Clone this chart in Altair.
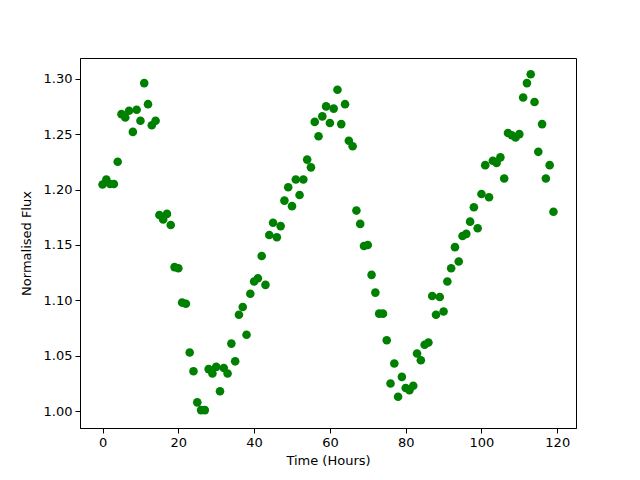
import altair as alt
import pandas as pd

hours = list(range(120))
flux = [
    1.2045, 1.209, 1.205, 1.205, 1.225, 1.268, 1.265, 1.271, 1.252, 1.272,
    1.262, 1.296, 1.277, 1.258, 1.262, 1.177, 1.173, 1.178, 1.168, 1.130,
    1.129, 1.098, 1.097, 1.053, 1.036, 1.008, 1.001, 1.001, 1.038, 1.034,
    1.040, 1.018, 1.039, 1.034, 1.061, 1.045, 1.087, 1.094, 1.069, 1.106,
    1.117, 1.120, 1.140, 1.114, 1.159, 1.170, 1.157, 1.167, 1.190, 1.202,
    1.185, 1.209, 1.195, 1.209, 1.227, 1.220, 1.261, 1.248, 1.266, 1.275,
    1.260, 1.273, 1.290, 1.259, 1.277, 1.244, 1.239, 1.181, 1.169, 1.149,
    1.150, 1.123, 1.107, 1.088, 1.088, 1.064, 1.025, 1.043, 1.013, 1.031,
    1.021, 1.019, 1.023, 1.052, 1.046, 1.060, 1.062, 1.104, 1.087, 1.103,
    1.090, 1.117, 1.129, 1.148, 1.135, 1.158, 1.160, 1.171, 1.184, 1.165,
    1.196, 1.222, 1.193, 1.226, 1.224, 1.229, 1.210, 1.251, 1.249, 1.247,
    1.250, 1.283, 1.296, 1.304, 1.279, 1.234, 1.259, 1.210, 1.222, 1.180,
]
x_ticks = [0, 20, 40, 60, 80, 100, 120]
y_ticks = [1.00, 1.05, 1.10, 1.15, 1.20, 1.25, 1.30]

df = pd.DataFrame({"Time": hours, "Flux": flux})

chart = alt.Chart(df).mark_circle(color="#008000", opacity=1, size=74).encode(
    x=alt.X("Time:Q", scale=alt.Scale(domain=[-5.95, 124.95], nice=False, zero=False),
            axis=alt.Axis(title="Time (Hours)", values=x_ticks, format="d", grid=False)),
    y=alt.Y("Flux:Q", scale=alt.Scale(domain=[0.98485, 1.31865], nice=False, zero=False),
            axis=alt.Axis(title="Normalised Flux", values=y_ticks, format=".2f", grid=False)),
).properties(
    width=496, height=370,
    padding={"left": 72, "top": 50, "right": 56, "bottom": 44},
    autosize=alt.AutoSizeParams(type="none"),
).configure_view(
    stroke="black", strokeWidth=1
).configure_axis(
    domainColor="black", domainWidth=1, tickColor="black", tickSize=5, tickWidth=1,
    labelFont="DejaVu Sans", labelFontSize=13, labelColor="black", labelPadding=3,
    titleFont="DejaVu Sans", titleFontSize=13, titleFontWeight="normal", titleColor="black",
).configure_axisX(titlePadding=5).configure_axisY(titlePadding=10)

chart.save("out.html", embed_options={"renderer": "svg", "actions": False})
